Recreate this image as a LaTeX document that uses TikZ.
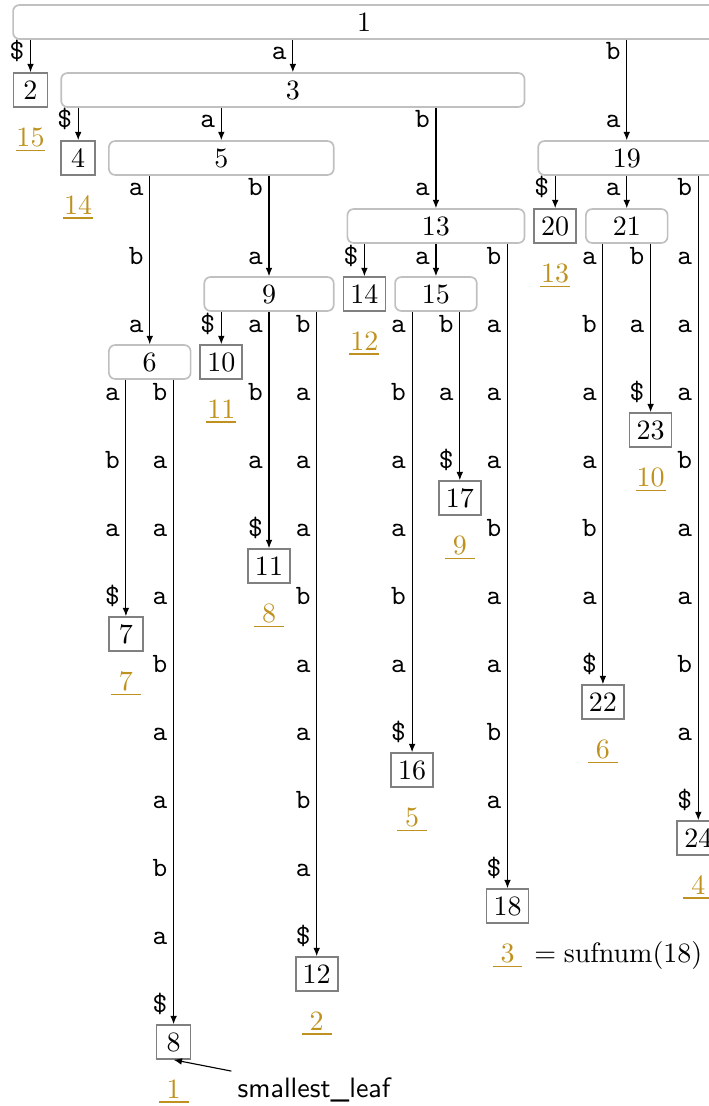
\documentclass[tikz,border=0pt]{standalone}
\usepackage{amsmath}
\usepackage{xcolor}
\definecolor{leafline}{RGB}{128,128,128}
\definecolor{innerline}{RGB}{192,192,192}
\definecolor{sufgold}{RGB}{191,145,30}
\usetikzlibrary{arrows.meta,positioning}
\newcommand{\sn}[1]{\underline{\makebox[10.7pt]{#1}}}
\newcommand{\edgeword}[4]{%
  \foreach \c [count=\i] in {#4}
    \node[letter] (#1-\i) at (#2, {68*(#3+\i)-8}) {\c};%
}

\begin{document}
\begin{tikzpicture}[
  x=0.357pt, y=-0.357pt,
  inode/.style={draw=innerline, fill=white, rounded corners=2.2pt, line width=0.6pt, minimum height=12.1pt, minimum width={#1*0.357pt}, inner sep=0pt},
  leaf/.style={draw=leafline, fill=white, line width=0.6pt, minimum width=12.1pt, minimum height=12.1pt, inner sep=2.5pt},
  letter/.style={anchor=base east, font=\ttfamily, inner sep=2pt},
  sufnum/.style={anchor=base, text=sufgold, inner sep=0pt},
  treeedge/.style={-{Latex[length=3pt,width=2.4pt]}, line width=0.4pt},
  pointer/.style={-{Latex[length=3pt,width=2.4pt]}, line width=0.4pt}
]
\useasboundingbox (0,0) rectangle (709,1106);

% internal nodes
\node[inode=701.8] (n1) at (364,22) {1};
\node[inode=463.3] (n3) at (292.85,90) {3};
\node[inode=224.8] (n5) at (221.3,158) {5};
\node[inode=177.1] (n19) at (626.75,158) {19};
\node[inode=177.1] (n13) at (435.95,226) {13};
\node[inode=81.7] (n21) at (626.75,226) {21};
\node[inode=129.4] (n9) at (269,294) {9};
\node[inode=81.7] (n15) at (435.95,294) {15};
\node[inode=81.7] (n6) at (149.75,362) {6};

% leaves
\node[leaf] (n2) at (30.5,90) {2};
\node[leaf] (n4) at (78.2,158) {4};
\node[leaf] (n20) at (555.2,226) {20};
\node[leaf] (n14) at (364.4,294) {14};
\node[leaf] (n10) at (221.3,362) {10};
\node[leaf] (n23) at (650.6,430) {23};
\node[leaf] (n17) at (459.8,498) {17};
\node[leaf] (n11) at (269,566) {11};
\node[leaf] (n7) at (125.9,634) {7};
\node[leaf] (n22) at (602.9,702) {22};
\node[leaf] (n16) at (412.1,770) {16};
\node[leaf] (n24) at (698.3,838) {24};
\node[leaf] (n18) at (507.5,906) {18};
\node[leaf] (n12) at (316.7,974) {12};
\node[leaf] (n8) at (173.6,1042) {8};

% suffix numbers
\node[sufnum] (s2) at ([yshift=-20pt]n2.center) {\sn{15}};
\node[sufnum] (s4) at ([yshift=-20pt]n4.center) {\sn{14}};
\node[sufnum] (s20) at ([yshift=-20pt]n20.center) {\sn{13}};
\node[sufnum] (s14) at ([yshift=-20pt]n14.center) {\sn{12}};
\node[sufnum] (s10) at ([yshift=-20pt]n10.center) {\sn{11}};
\node[sufnum] (s23) at ([yshift=-20pt]n23.center) {\sn{10}};
\node[sufnum] (s17) at ([yshift=-20pt]n17.center) {\sn{9}};
\node[sufnum] (s11) at ([yshift=-20pt]n11.center) {\sn{8}};
\node[sufnum] (s7) at ([yshift=-20pt]n7.center) {\sn{7}};
\node[sufnum] (s22) at ([yshift=-20pt]n22.center) {\sn{6}};
\node[sufnum] (s16) at ([yshift=-20pt]n16.center) {\sn{5}};
\node[sufnum] (s24) at ([yshift=-20pt]n24.center) {\sn{4}};
\node[sufnum] (s18) at ([yshift=-20pt]n18.center) {\sn{3}};
\node[sufnum] (s12) at ([yshift=-20pt]n12.center) {\sn{2}};
\node[sufnum] (s8) at ([yshift=-20pt]n8.center) {\sn{1}};

\node[anchor=base west, inner sep=0pt] (sufeq) at ([xshift=3.8pt]s18.base east) {$=\mathrm{sufnum}(18)$};
\node[anchor=base west, font=\sffamily, inner sep=2pt] (note) at (231.4,1097) {smallest\_leaf};

% edges
\draw[treeedge] (n2 |- n1.south) -- (n2.north);
\draw[treeedge] (n3 |- n1.south) -- (n3.north);
\draw[treeedge] (n19 |- n1.south) -- (n19.north);
\draw[treeedge] (n4 |- n3.south) -- (n4.north);
\draw[treeedge] (n5 |- n3.south) -- (n5.north);
\draw[treeedge] (n13 |- n3.south) -- (n13.north);
\draw[treeedge] (n6 |- n5.south) -- (n6.north);
\draw[treeedge] (n9 |- n5.south) -- (n9.north);
\draw[treeedge] (n20 |- n19.south) -- (n20.north);
\draw[treeedge] (n21 |- n19.south) -- (n21.north);
\draw[treeedge] (n24 |- n19.south) -- (n24.north);
\draw[treeedge] (n14 |- n13.south) -- (n14.north);
\draw[treeedge] (n15 |- n13.south) -- (n15.north);
\draw[treeedge] (n18 |- n13.south) -- (n18.north);
\draw[treeedge] (n22 |- n21.south) -- (n22.north);
\draw[treeedge] (n23 |- n21.south) -- (n23.north);
\draw[treeedge] (n10 |- n9.south) -- (n10.north);
\draw[treeedge] (n11 |- n9.south) -- (n11.north);
\draw[treeedge] (n12 |- n9.south) -- (n12.north);
\draw[treeedge] (n16 |- n15.south) -- (n16.north);
\draw[treeedge] (n17 |- n15.south) -- (n17.north);
\draw[treeedge] (n7 |- n6.south) -- (n7.north);
\draw[treeedge] (n8 |- n6.south) -- (n8.north);
\draw[pointer] (note.north west) -- (n8.south);

% edge labels
\edgeword{w2}{30.5}{0}{\$}
\edgeword{w3}{292.85}{0}{a}
\edgeword{w19}{626.75}{0}{b,a}
\edgeword{w4}{78.2}{1}{\$}
\edgeword{w5}{221.3}{1}{a}
\edgeword{w13}{435.95}{1}{b,a}
\edgeword{w6}{149.75}{2}{a,b,a}
\edgeword{w9}{269}{2}{b,a}
\edgeword{w20}{555.2}{2}{\$}
\edgeword{w21}{626.75}{2}{a}
\edgeword{w24}{698.3}{2}{b,a,a,a,b,a,a,b,a,\$}
\edgeword{w14}{364.4}{3}{\$}
\edgeword{w15}{435.95}{3}{a}
\edgeword{w18}{507.5}{3}{b,a,a,a,b,a,a,b,a,\$}
\edgeword{w22}{602.9}{3}{a,b,a,a,b,a,\$}
\edgeword{w23}{650.6}{3}{b,a,\$}
\edgeword{w10}{221.3}{4}{\$}
\edgeword{w11}{269}{4}{a,b,a,\$}
\edgeword{w12}{316.7}{4}{b,a,a,a,b,a,a,b,a,\$}
\edgeword{w16}{412.1}{4}{a,b,a,a,b,a,\$}
\edgeword{w17}{459.8}{4}{b,a,\$}
\edgeword{w7}{125.9}{5}{a,b,a,\$}
\edgeword{w8}{173.6}{5}{b,a,a,a,b,a,a,b,a,\$}
\end{tikzpicture}
\end{document}
